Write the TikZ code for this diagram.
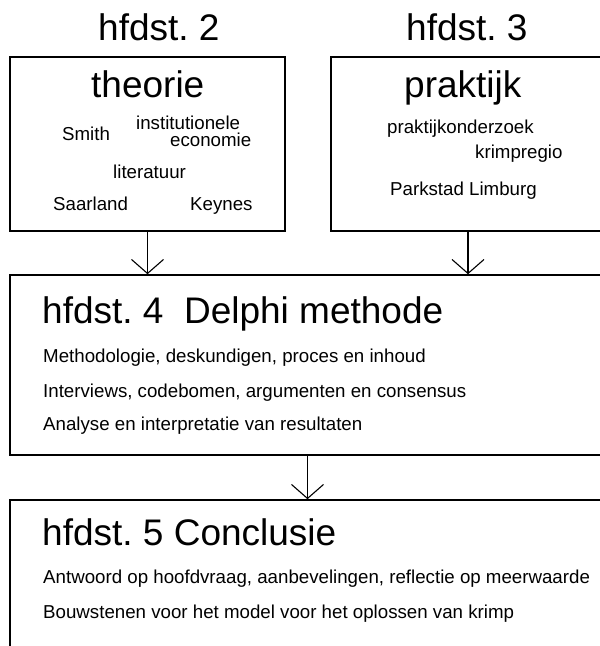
\documentclass[tikz,border=0pt]{standalone}
\usepackage{fontspec}
\setmainfont{Liberation Sans}
\usetikzlibrary{arrows.meta}
\frenchspacing
\begin{document}
\begin{tikzpicture}[x=1pt,y=-1pt]
        \tikzstyle{every node}+=[inner sep=0pt]
        \tikzset{kader/.style={draw=black, line width=1.6pt},
                 pijl/.style={draw=black, line width=1.1pt, -{Straight Barb[length=14pt,width=32pt]}},
                 groot/.style={anchor=base west, font=\fontsize{37}{40}\selectfont},
                 klein/.style={anchor=base west, font=\fontsize{18.7}{22}\selectfont}}
        \clip (0,0) rectangle (600,646);
        \fill [white] (0,0) rectangle (600,646);
        \node [kader, minimum width=275, minimum height=174] (theoriebox) at (147.5,144) {};
        \node [kader, minimum width=274, minimum height=174] (praktijkbox) at (468,144) {};
        \node [kader, minimum width=595, minimum height=180] (delphibox) at (307.5,365) {};
        \node [kader, minimum width=595, minimum height=180] (conclusiebox) at (307.5,590) {};
        \node [groot] (h2) at (98,40) {hfdst. 2};
        \node [groot] (h3) at (406,40) {hfdst. 3};
        \node [groot] (theorie) at (91,97) {theorie};
        \node [klein] (smith) at (62,140) {Smith};
        \node [klein] (inst) at (136,129) {institutionele};
        \node [klein] (econ) at (170,146) {economie};
        \node [klein] (lit) at (113,178) {literatuur};
        \node [klein] (saar) at (53,210) {Saarland};
        \node [klein] (keynes) at (190,210) {Keynes};
        \node [groot] (praktijk) at (404,97) {praktijk};
        \node [klein] (onderzoek) at (387,133) {praktijkonderzoek};
        \node [klein] (krimp) at (475,158) {krimpregio};
        \node [klein] (parkstad) at (390,195) {Parkstad Limburg};
        \node [groot] (h4) at (42,323) {hfdst. 4\ \ Delphi methode};
        \node [klein] (d1) at (43,362) {Methodologie, deskundigen, proces en inhoud};
        \node [klein] (d2) at (43,397) {Interviews, codebomen, argumenten en consensus};
        \node [klein] (d3) at (43,430) {Analyse en interpretatie van resultaten};
        \node [groot] (h5) at (42,545) {hfdst. 5 Conclusie};
        \node [klein] (c1) at (43,583) {Antwoord op hoofdvraag, aanbevelingen, reflectie op meerwaarde};
        \node [klein] (c2) at (43,618) {Bouwstenen voor het model voor het oplossen van krimp};
        \draw [pijl] (theoriebox.south) -- (theoriebox.south |- delphibox.north);
        \draw [pijl] (praktijkbox.south) -- (praktijkbox.south |- delphibox.north);
        \draw [pijl] (delphibox.south) -- (conclusiebox.north);
        \end{tikzpicture}
\end{document}
